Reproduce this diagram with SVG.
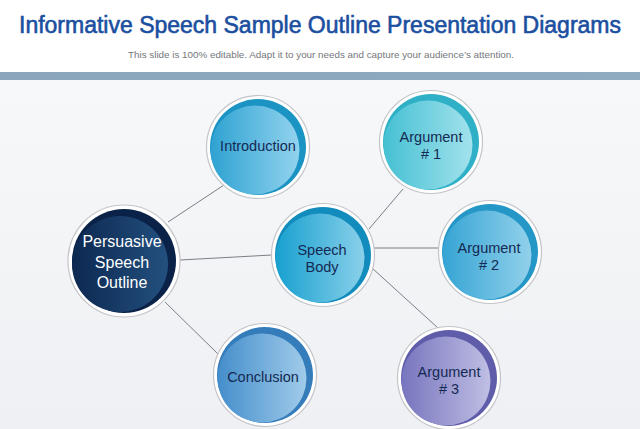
<svg xmlns="http://www.w3.org/2000/svg" width="640" height="429" viewBox="0 0 640 429">
<defs>
<linearGradient id="bg" x1="0" y1="0" x2="0" y2="1">
<stop offset="0" stop-color="#f7f8fa"/><stop offset="1" stop-color="#eef0f3"/>
</linearGradient>
<linearGradient id="band" x1="0" y1="0" x2="1" y2="0">
<stop offset="0" stop-color="#8aa5bc"/><stop offset="1" stop-color="#8eabc0"/>
</linearGradient>
<linearGradient id="gNavy" x1="0" y1="0" x2="1" y2="0">
<stop offset="0" stop-color="#0c2850"/><stop offset="1" stop-color="#23507f"/>
</linearGradient>
<linearGradient id="gBlue" x1="0" y1="0" x2="1" y2="0">
<stop offset="0" stop-color="#2ea2d2"/><stop offset="1" stop-color="#92d3ee"/>
</linearGradient>
<linearGradient id="gSky" x1="0" y1="0" x2="1" y2="0">
<stop offset="0" stop-color="#17a0cf"/><stop offset="1" stop-color="#8ad0ea"/>
</linearGradient>
<linearGradient id="gTeal" x1="0" y1="0" x2="1" y2="0">
<stop offset="0" stop-color="#45c0d3"/><stop offset="1" stop-color="#a2e2ec"/>
</linearGradient>
<linearGradient id="gArg2" x1="0" y1="0" x2="1" y2="0">
<stop offset="0" stop-color="#35a4d4"/><stop offset="1" stop-color="#92d1eb"/>
</linearGradient>
<linearGradient id="gPurple" x1="0" y1="0" x2="1" y2="0">
<stop offset="0" stop-color="#7775be"/><stop offset="1" stop-color="#c0bfe4"/>
</linearGradient>
<linearGradient id="gConc" x1="0" y1="0" x2="1" y2="0">
<stop offset="0" stop-color="#448ecb"/><stop offset="1" stop-color="#a0cbea"/>
</linearGradient>
</defs>
<style>
.ring{fill:#ffffff;stroke:#c4c4c8;stroke-width:1.2}
.lbl{font-family:"Liberation Sans",Arial,sans-serif;font-size:14.5px;fill:#142a52;text-anchor:middle}
.wlbl{font-family:"Liberation Sans",Arial,sans-serif;font-size:16px;fill:#ffffff;text-anchor:middle}
.conn line{stroke:#6d7278;stroke-width:0.9}
</style>
<rect x="0" y="0" width="640" height="429" fill="#ffffff"/>
<rect x="0" y="80" width="640" height="349" fill="url(#bg)"/>
<rect x="0" y="72" width="640" height="8" fill="url(#band)"/>
<text x="320" y="33" text-anchor="middle" font-family="Liberation Sans,Arial,sans-serif" font-size="23" fill="#1b4f9f" stroke="#1b4f9f" stroke-width="0.6" textLength="602" lengthAdjust="spacingAndGlyphs">Informative Speech Sample Outline Presentation Diagrams</text>
<text x="321" y="58" text-anchor="middle" font-family="Liberation Sans,Arial,sans-serif" font-size="9.8" fill="#74777c" textLength="386" lengthAdjust="spacingAndGlyphs">This slide is 100% editable. Adapt it to your needs and capture your audience’s attention.</text>

<g id="connectors" class="conn">
<line x1="168" y1="222" x2="224" y2="185"/>
<line x1="180" y1="260" x2="272" y2="255"/>
<line x1="165" y1="302" x2="218" y2="354"/>
<line x1="369" y1="229" x2="403" y2="189"/>
<line x1="374" y1="248" x2="438" y2="248"/>
<line x1="372" y1="268" x2="438" y2="328"/>
</g>

<g id="persuasive">
<circle class="ring" cx="124" cy="261" r="56"/>
<circle cx="124" cy="261" r="52" fill="#0a2247"/>
<circle cx="120" cy="264" r="48" fill="url(#gNavy)"/>
<text class="wlbl" x="122" y="247">Persuasive</text>
<text class="wlbl" x="122" y="268">Speech</text>
<text class="wlbl" x="122" y="288">Outline</text>
</g>

<g id="introduction">
<circle class="ring" cx="258" cy="147" r="51.5"/>
<circle cx="258" cy="147" r="48" fill="#1b93c3"/>
<circle cx="255" cy="150" r="44.5" fill="url(#gBlue)"/>
<text class="lbl" x="258" y="151">Introduction</text>
</g>

<g id="speech-body">
<circle class="ring" cx="323" cy="255" r="51.5"/>
<circle cx="323" cy="255" r="48" fill="#128cbd"/>
<circle cx="320" cy="258" r="44.5" fill="url(#gSky)"/>
<text class="lbl" x="322" y="255">Speech</text>
<text class="lbl" x="322" y="272">Body</text>
</g>

<g id="argument-1">
<circle class="ring" cx="431" cy="142" r="51.5"/>
<circle cx="431" cy="142" r="48" fill="#2fb0c6"/>
<circle cx="428" cy="145" r="44.5" fill="url(#gTeal)"/>
<text class="lbl" x="431" y="142">Argument</text>
<text class="lbl" x="431" y="159"># 1</text>
</g>

<g id="argument-2">
<circle class="ring" cx="490" cy="252" r="51.5"/>
<circle cx="490" cy="252" r="48" fill="#2597c6"/>
<circle cx="487" cy="255" r="44.5" fill="url(#gArg2)"/>
<text class="lbl" x="489" y="253">Argument</text>
<text class="lbl" x="489" y="270"># 2</text>
</g>

<g id="argument-3">
<circle class="ring" cx="449" cy="378" r="51.5"/>
<circle cx="449" cy="378" r="48" fill="#5f5daa"/>
<circle cx="446" cy="381" r="44.5" fill="url(#gPurple)"/>
<text class="lbl" x="449" y="377">Argument</text>
<text class="lbl" x="449" y="394"># 3</text>
</g>

<g id="conclusion">
<circle class="ring" cx="265" cy="375" r="51.5"/>
<circle cx="265" cy="375" r="48" fill="#357cba"/>
<circle cx="262" cy="378" r="44.5" fill="url(#gConc)"/>
<text class="lbl" x="263" y="382">Conclusion</text>
</g>
</svg>
